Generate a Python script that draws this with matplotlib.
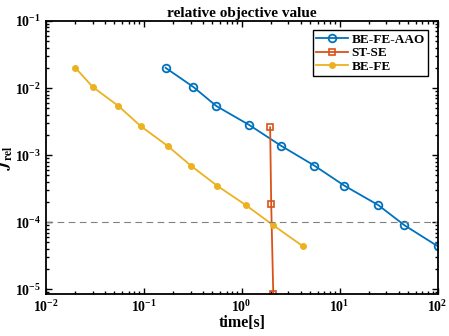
import numpy as np
import matplotlib
matplotlib.use('Agg')
import matplotlib.pyplot as plt

plt.rcParams['font.family'] = 'Liberation Serif'
plt.rcParams['font.weight'] = 'bold'
plt.rcParams['mathtext.fontset'] = 'stix'

# ======== data ========================================
t_aao = [0.167, 0.32, 0.55, 1.2, 2.5, 5.5, 11.2, 24.8, 46, 100]
j_aao = [0.02, 0.0104, 0.0054, 0.0028, 0.00139, 0.0007, 3.5e-4, 1.8e-4, 9e-5, 4.4e-5]

t_stse = [1.95, 2.0, 2.1]
j_stse = [0.0026, 1.85e-4, 8.5e-6]

t_befe = [0.02, 0.03, 0.055, 0.093, 0.175, 0.305, 0.56, 1.1, 2.1, 4.2]
j_befe = [0.02, 0.0104, 0.0054, 0.0027, 0.00137, 0.00069, 3.5e-4, 1.8e-4, 9e-5, 4.4e-5]

tol = 1e-4

fig = plt.figure(figsize=(4.49, 3.36), dpi=100)
ax = fig.add_axes([0.1024, 0.125, 0.872, 0.8125])

ax.loglog(t_aao, j_aao, '-o', color='#0072BD', lw=1.3, ms=5.5,
          mfc='none', mew=1.3, label='BE-FE-AAO')
ax.loglog(t_stse, j_stse, '-s', color='#D95319', lw=1.3, ms=5,
          mfc='none', mew=1.2, label='ST-SE')
ax.loglog(t_befe, j_befe, '-o', color='#EDB120', lw=1.3, ms=4,
          mfc='#EDB120', mew=1, label='BE-FE')
ax.axhline(tol, color='gray', ls=(0, (6, 4)), lw=0.8)

ax.set_xlim(1e-2, 1e2)
ax.set_ylim(8.5e-6, 1e-1)
ax.set_title('relative objective value', fontsize=11, fontweight='bold', pad=3)
ax.set_xlabel('time[s]', fontsize=11.5, fontweight='bold', labelpad=0)
ax.set_ylabel(r'$J_{\mathrm{rel}}$', fontsize=12)
ax.yaxis.set_label_coords(-0.078, 0.5)

ax.tick_params(which='both', direction='in', top=True, right=True,
               labelsize=10, width=1.0)
ax.tick_params(which='major', length=4)
ax.tick_params(which='minor', length=2)
for s in ax.spines.values():
    s.set_linewidth(1.3)

leg = ax.legend(loc='upper right', fontsize=9.5, fancybox=False,
                edgecolor='black', framealpha=1, borderaxespad=0.7,
                handlelength=2.4, handletextpad=0.3, borderpad=0.25,
                labelspacing=0.1)
leg.get_frame().set_linewidth(1.0)

fig.savefig('out.png', dpi=100)
